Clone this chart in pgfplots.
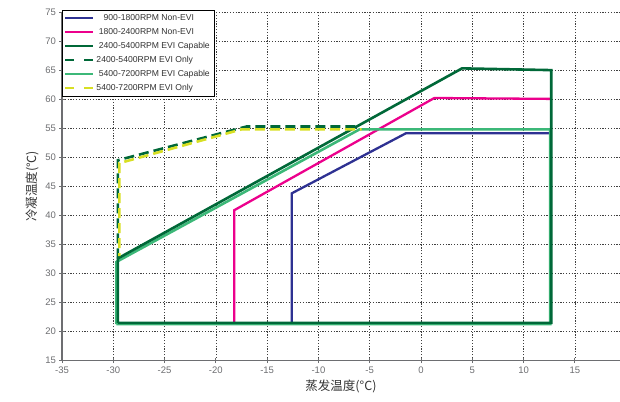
\documentclass[border=0pt]{standalone}
\usepackage{pgfplots}
\pgfplotsset{compat=1.18}
\usepackage{fontspec}
\setmainfont{Liberation Sans}
\newfontfamily\cjk{Noto Sans CJK SC}

\definecolor{cBlue}{HTML}{2E3192}
\definecolor{cPink}{HTML}{EC008C}
\definecolor{cDkGreen}{HTML}{006838}
\definecolor{cLtGreen}{HTML}{3CB878}
\definecolor{cYellow}{HTML}{D7DF23}
\definecolor{cTick}{HTML}{6D6E71}

\begin{document}
\begin{tikzpicture}
\begin{axis}[
    scale only axis,
    width=558pt, height=348.7pt,
    xmin=-35, xmax=19.4, ymin=15, ymax=75,
    xtick={-35,-30,...,15}, ytick={15,20,...,75},
    axis lines*=left,
    axis line style={cTick, line width=1.3pt},
    tick style={cTick, line width=0.8pt},
    tick align=center, major tick length=5pt,
    grid=major,
    major grid style={black!75, line width=0.6pt, dash pattern=on 1.2pt off 1.6pt},
    /pgf/number format/assume math mode=true,
    ticklabel style={font=\fontsize{9.5}{11}\selectfont, text=cTick},
    xlabel={\cjk 蒸发温度(°C)},
    ylabel={\cjk 冷凝温度(°C)},
    label style={font=\fontsize{12.5}{14}\selectfont, text=black!80},
    legend style={at={(0,1.006)}, anchor=north west, draw=black, line width=0.6pt,
        fill=white, font=\fontsize{8.6}{10}\selectfont, text=black!80,
        inner sep=2pt, row sep=2.4pt, cells={anchor=west}},
    legend image code/.code={\draw[#1] (0pt,0pt) -- (28pt,0pt);},
    legend cell align=left,
]
% legend entries first, plots below drawn in visual stacking order
\addlegendimage{cBlue, line width=2.2pt}
\addlegendimage{cPink, line width=2.2pt}
\addlegendimage{cDkGreen, line width=2.2pt}
\addlegendimage{cDkGreen, line width=2.2pt, dash pattern=on 9pt off 10pt}
\addlegendimage{cLtGreen, line width=2.2pt}
\addlegendimage{cYellow, line width=2.2pt, dash pattern=on 9pt off 10pt}
\legend{\ \ \ 900-1800RPM Non-EVI, \ 1800-2400RPM Non-EVI, \ 2400-5400RPM EVI Capable,
        2400-5400RPM EVI Only, \ 5400-7200RPM EVI Capable, 5400-7200RPM EVI Only}

\addplot[forget plot, cBlue, line width=2.3pt] coordinates {
    (-12.6,21.5) (-12.6,43.8) (-1.45,54.15) (12.6,54.15)};
\addplot[forget plot, cPink, line width=2.3pt] coordinates {
    (-18.2,21.5) (-18.2,40.9) (1.3,60.2) (12.6,60.05)};
\addplot[forget plot, cLtGreen, line width=2.6pt] coordinates {
    (-29.7,21.3) (-29.7,32.0) (-6.0,54.8) (12.6,54.8) (12.6,21.3) (-29.7,21.3)};
\addplot[forget plot, cDkGreen, line width=2.6pt] coordinates {
    (-29.55,21.5) (-29.55,32.6) (4.0,65.3) (12.7,65.0) (12.7,21.5) (-29.55,21.5)};
\addplot[forget plot, cDkGreen, line width=2.6pt, dash pattern=on 10pt off 5pt] coordinates {
    (-29.55,32.6) (-29.55,49.5) (-17,55.3) (-6.3,55.3)};
\addplot[forget plot, cYellow, line width=2.6pt, dash pattern=on 10pt off 5pt, dash phase=7pt] coordinates {
    (-29.4,33.0) (-29.4,49.0) (-17.5,54.8) (-5.8,54.8)};
\end{axis}
\pgfresetboundingbox
\path[use as bounding box] (-62pt,-40.3pt) rectangle (558pt,360.7pt);
\end{tikzpicture}
\end{document}
